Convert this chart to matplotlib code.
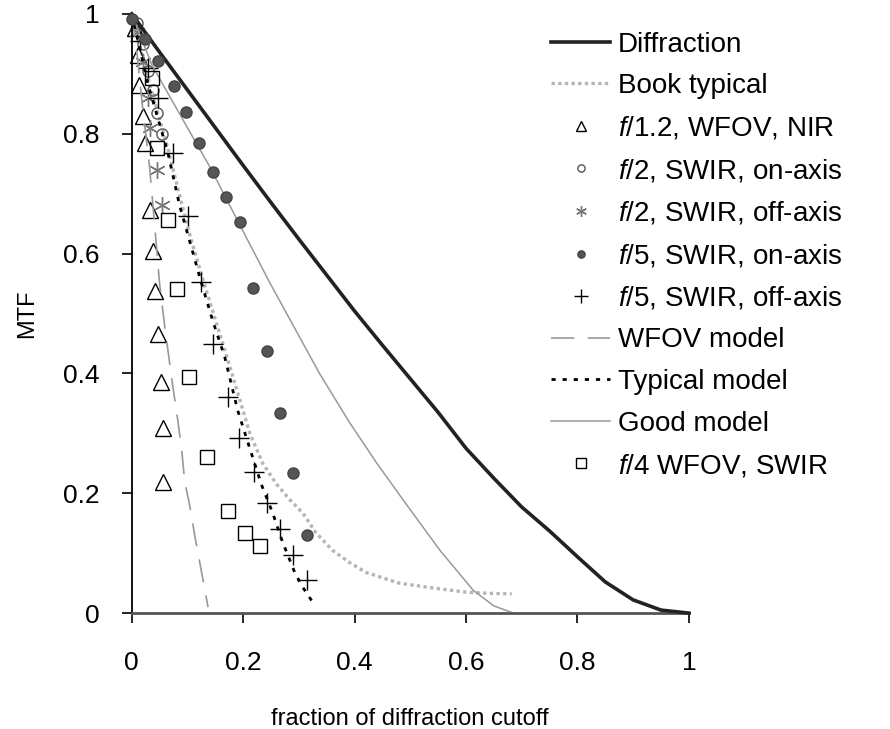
import numpy as np
import matplotlib
matplotlib.use("Agg")
import matplotlib.pyplot as plt

plt.rcParams['font.family'] = ['Liberation Sans', 'DejaVu Sans']
plt.rcParams['mathtext.fontset'] = 'custom'
plt.rcParams['mathtext.rm'] = 'Liberation Sans'
plt.rcParams['mathtext.it'] = 'Liberation Sans:italic'

# curves
diff_x = [0, 0.05, 0.1, 0.15, 0.2, 0.25, 0.3, 0.35, 0.4, 0.45, 0.5, 0.55,
          0.6, 0.65, 0.7, 0.75, 0.8, 0.85, 0.9, 0.95, 1.0]
diff_y = [1, 0.936, 0.873, 0.81, 0.747, 0.685, 0.624, 0.564, 0.504, 0.447,
          0.391, 0.335, 0.275, 0.225, 0.177, 0.137, 0.094, 0.052, 0.022, 0.005, 0]

book_x = [0, 0.03, 0.065, 0.1, 0.125, 0.15, 0.17, 0.194, 0.212, 0.235, 0.26,
          0.284, 0.307, 0.33, 0.36, 0.39, 0.42, 0.48, 0.54, 0.6, 0.64, 0.682]
book_y = [1, 0.89, 0.775, 0.645, 0.565, 0.49, 0.43, 0.356, 0.30, 0.25, 0.215,
          0.189, 0.167, 0.135, 0.105, 0.085, 0.068, 0.05, 0.042, 0.035, 0.033, 0.032]

wfov_x = [0, 0.01, 0.02, 0.032, 0.041, 0.05, 0.059, 0.072, 0.083, 0.09, 0.095,
          0.104, 0.113, 0.122, 0.131, 0.137]
wfov_y = [1, 0.93, 0.84, 0.745, 0.65, 0.55, 0.48, 0.39, 0.32, 0.27, 0.22,
          0.18, 0.13, 0.085, 0.04, 0.01]

typ_x = [0, 0.03, 0.065, 0.086, 0.1, 0.122, 0.145, 0.167, 0.19, 0.206, 0.233,
         0.253, 0.271, 0.293, 0.307, 0.325]
typ_y = [1, 0.88, 0.768, 0.68, 0.634, 0.561, 0.489, 0.427, 0.339, 0.292, 0.214,
         0.167, 0.118, 0.067, 0.043, 0.018]

good_x = [0, 0.036, 0.1, 0.14, 0.2, 0.248, 0.314, 0.337, 0.391, 0.44, 0.487,
          0.553, 0.613, 0.65, 0.685]
good_y = [1, 0.915, 0.81, 0.745, 0.637, 0.551, 0.439, 0.40, 0.318, 0.25, 0.189,
          0.105, 0.038, 0.012, 0.0]

# measured points
tri_x = [0.005, 0.011, 0.013, 0.02, 0.023, 0.032, 0.038, 0.041, 0.047, 0.052, 0.057, 0.057]
tri_y = [0.977, 0.932, 0.881, 0.83, 0.785, 0.673, 0.604, 0.538, 0.466, 0.386, 0.309, 0.219]

circ_x = [0.01, 0.02, 0.03, 0.038, 0.045, 0.054]
circ_y = [0.985, 0.95, 0.905, 0.873, 0.835, 0.80]

ast_x = [0.01, 0.02, 0.029, 0.033, 0.045, 0.054]
ast_y = [0.97, 0.92, 0.86, 0.81, 0.74, 0.681]

dot_x = [0, 0.023, 0.048, 0.075, 0.097, 0.12, 0.145, 0.17, 0.194, 0.217,
         0.242, 0.266, 0.289, 0.314]
dot_y = [0.992, 0.958, 0.922, 0.88, 0.836, 0.785, 0.736, 0.694, 0.653, 0.543,
         0.437, 0.334, 0.234, 0.13]

plus_x = [0.015, 0.03, 0.047, 0.074, 0.101, 0.124, 0.145, 0.172, 0.192, 0.219,
          0.242, 0.266, 0.289, 0.314]
plus_y = [0.955, 0.91, 0.86, 0.768, 0.663, 0.553, 0.449, 0.361, 0.292, 0.235,
          0.184, 0.14, 0.097, 0.055]

sq_x = [0.036, 0.045, 0.065, 0.081, 0.102, 0.135, 0.172, 0.203, 0.23]
sq_y = [0.893, 0.776, 0.656, 0.541, 0.394, 0.26, 0.17, 0.134, 0.112]

fig = plt.figure(figsize=(8.9, 7.29), dpi=100)
ax = fig.add_axes([0.148, 0.159, 0.626, 0.822])

ax.plot(diff_x, diff_y, color='#222222', lw=2.6, label='Diffraction', clip_on=False, zorder=3)
ax.plot(book_x, book_y, color='#b5b5b5', lw=2.4, ls=(0, (1, 1)), label='Book typical', clip_on=False)
ax.plot(tri_x, tri_y, ls='none', marker='^', ms=11, mfc='none', mec='black', mew=1,
        label='$f$/1.2, WFOV, NIR', clip_on=False)
ax.plot(circ_x, circ_y, ls='none', marker='o', ms=8, mfc='none', mec='#555555', mew=1,
        label='$f$/2, SWIR, on-axis', clip_on=False)
ax.plot(ast_x, ast_y, ls='none', marker=(6, 2, 0), ms=12, mec='#777777', mew=1,
        label='$f$/2, SWIR, off-axis', clip_on=False)
ax.plot(dot_x, dot_y, ls='none', marker='o', ms=8, mfc='#555555', mec='#444444',
        label='$f$/5, SWIR, on-axis', clip_on=False, zorder=4)
ax.plot(plus_x, plus_y, ls='none', marker='+', ms=15, mec='black', mew=1,
        label='$f$/5, SWIR, off-axis', clip_on=False)
ax.plot(wfov_x, wfov_y, color='#999999', lw=1.2, ls=(0, (14, 8)), label='WFOV model')
ax.plot(typ_x, typ_y, color='black', lw=2, ls=(0, (1.5, 2.5)), label='Typical model')
ax.plot(good_x, good_y, color='#999999', lw=1.1, label='Good model')
ax.plot(sq_x, sq_y, ls='none', marker='s', ms=10.5, mfc='none', mec='black', mew=1,
        label='$f$/4 WFOV, SWIR')

ax.set_xlim(0, 1)
ax.set_ylim(0, 1)
ax.set_xticks([0, 0.2, 0.4, 0.6, 0.8, 1])
ax.set_xticklabels(['0', '0.2', '0.4', '0.6', '0.8', '1'])
ax.set_yticks([0, 0.2, 0.4, 0.6, 0.8, 1])
ax.set_yticklabels(['0', '0.2', '0.4', '0.6', '0.8', '1'])
ax.tick_params(axis='x', direction='out', length=7, width=1.2, pad=20, labelsize=19)
ax.tick_params(axis='y', direction='out', length=7, width=1.2, pad=16, labelsize=19)
for s in ['top', 'right']:
    ax.spines[s].set_visible(False)
ax.spines['left'].set_linewidth(1.3)
ax.spines['bottom'].set_linewidth(2)
ax.spines['bottom'].set_color('#555555')

ax.set_ylabel('MTF', fontsize=17, labelpad=18)
ax.set_xlabel('fraction of diffraction cutoff', fontsize=17, labelpad=24)

leg = fig.legend(loc='upper left', bbox_to_anchor=(0.607, 0.972), frameon=False,
                 fontsize=20, handlelength=2.1, handletextpad=0.3, labelspacing=0.56,
                 markerscale=0.65, borderaxespad=0)

fig.savefig('out.png', dpi=100)
